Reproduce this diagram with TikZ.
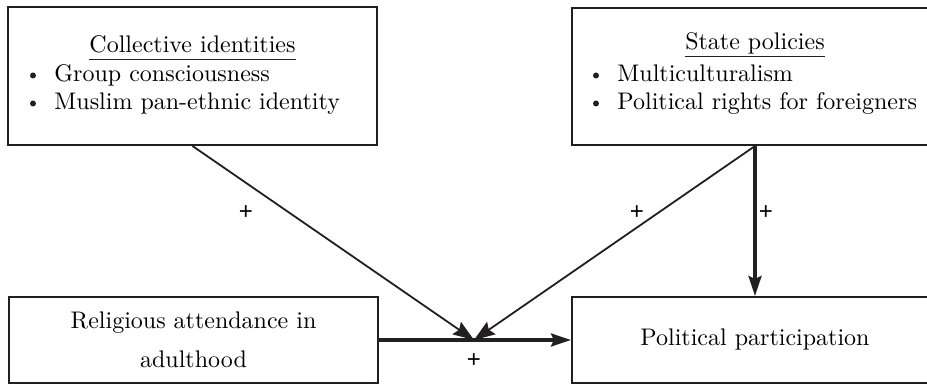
\documentclass[tikz,border=0pt]{standalone}
\usepackage{fontspec}
\setmainfont{lmroman10-regular}[Extension=.otf]
\newfontfamily\plusfont{Liberation Sans}
\usetikzlibrary{arrows.meta}
\definecolor{ink}{HTML}{231F20}
\begin{document}
\begin{tikzpicture}[x=0.5pt,y=-0.5pt,
  box/.style={draw=ink,line width=1pt,rectangle,inner sep=0pt,align=center,
    font=\fontsize{12}{19.5}\selectfont},
  txt/.style={inner sep=0pt,font=\fontsize{12}{14}\selectfont},
  dot/.style={circle,fill=ink,inner sep=0pt,minimum size=3pt},
  uline/.style={draw=ink,line width=0.55pt},
  plus/.style={inner sep=0pt,font=\plusfont\fontsize{12}{14}\selectfont},
  thinarrow/.style={draw=ink,line width=0.9pt,-{Stealth[length=10.5pt,width=7.5pt,inset=1.5pt]}},
  thickarrow/.style={draw=ink,line width=1.6pt,-{Stealth[length=10pt,width=6.5pt,inset=1.5pt]}},
]
\useasboundingbox (0,0) rectangle (927,384);

% boxes
\node[box,minimum width=184.5pt,minimum height=69pt] (ci) at (192.5,76) {};
\node[box,minimum width=183pt,minimum height=68.5pt] (sp) at (755,76.5) {};
\node[box,minimum width=184.5pt,minimum height=43pt] (ra) at (193.5,340) {Religious attendance in\\adulthood};
\node[box,minimum width=183pt,minimum height=43pt] (pp) at (755,340) {Political participation};

% collective identities text
\node[txt,anchor=base] (cit) at (192.5,53) {Collective identities};
\draw[uline] ([yshift=-3.4pt]cit.base west) -- ([yshift=-3.4pt]cit.base east);
\node[dot] (cib1) at (33,75.5) {};
\node[txt,anchor=base west] (cii1) at (54,82) {Group consciousness};
\node[dot] (cib2) at (33,103.5) {};
\node[txt,anchor=base west] (cii2) at (54,110) {Muslim pan-ethnic identity};

% state policies text
\node[txt,anchor=base] (spt) at (755,50) {State policies};
\draw[uline] ([yshift=-3.2pt]spt.base west) -- ([yshift=-3.2pt]spt.base east);
\node[dot] (spb1) at (596,75.5) {};
\node[txt,anchor=base west] (spi1) at (617,82) {Multiculturalism};
\node[dot] (spb2) at (596,103.5) {};
\node[txt,anchor=base west] (spi2) at (617,110) {Political rights for foreigners};

% connectors
\coordinate (m) at (474,340);
\draw[thinarrow] (ci.south) -- (m);
\draw[thinarrow] (sp.south) -- (m);
\draw[thickarrow] (sp.south) -- (pp.north);
\draw[thickarrow] (ra.east) -- (pp.west);

% signs
\node[plus] (p1) at (246,213) {+};
\node[plus] (p2) at (637,213) {+};
\node[plus] (p3) at (766,213) {+};
\node[plus] (p4) at (474,361) {+};
\end{tikzpicture}
\end{document}
